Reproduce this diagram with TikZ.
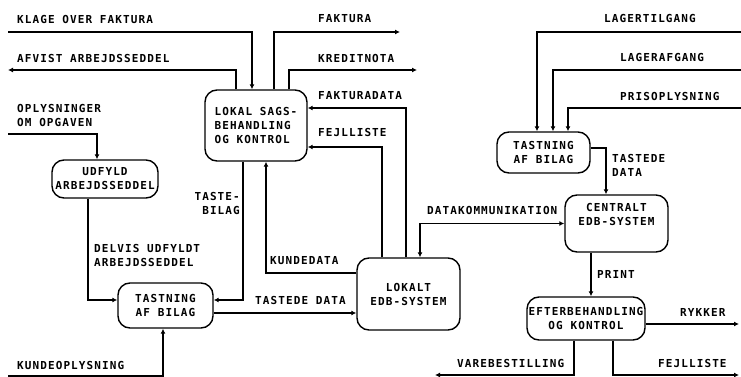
\documentclass[tikz,border=0pt]{standalone}
\usepackage{fontspec}
\usepackage{tikz}
\usetikzlibrary{arrows.meta,positioning}
\newfontfamily\dotfont[LetterSpace=10]{DejaVu Sans Mono}

\begin{document}
\begin{tikzpicture}[
  x=1pt,y=-1pt,
  every node/.style={font=\dotfont\bfseries\fontsize{11}{14}\selectfont},
  proc/.style={draw,line width=1.4pt,rounded corners=12pt,inner sep=1pt,align=center},
  lbl/.style={inner sep=0pt,anchor=west,align=left},
  flow/.style={line width=1.2pt,-{Latex[length=5pt,width=5pt]}},
  both/.style={line width=1.2pt,{Latex[length=5pt,width=5pt]}-{Latex[length=5pt,width=5pt]}}
]
\useasboundingbox (0,0) rectangle (741,377);
% processes
\node[proc,minimum width=102pt,minimum height=71pt,align=left] (lokal) at (256,125.5) {LOKAL SAGS-\\BEHANDLING\\OG KONTROL};
\node[proc,minimum width=106pt,minimum height=38pt] (udfyld) at (105,179) {UDFYLD\\ARBEJDSSEDDEL};
\node[proc,minimum width=95pt,minimum height=45pt] (tastA) at (165.5,305.5) {TASTNING\\AF BILAG};
\node[proc,minimum width=103pt,minimum height=72pt] (edb) at (408.5,294) {LOKALT\\EDB-SYSTEM};
\node[proc,minimum width=93pt,minimum height=41pt] (tastB) at (543.5,152.5) {TASTNING\\AF BILAG};
\node[proc,minimum width=103pt,minimum height=57pt] (central) at (616.5,223.5) {CENTRALT\\EDB-SYSTEM\\[4pt]};
\node[proc,minimum width=118pt,minimum height=43pt] (efter) at (586,318.5) {EFTERBEHANDLING\\OG KONTROL};
% free ends
\coordinate (klage) at (8,32);
\coordinate (afvist) at (8,70);
\coordinate (faktura) at (400,32);
\coordinate (kredit) at (417,70);
\coordinate (lagertil) at (741,32);
\coordinate (lagerafg) at (741,70);
\coordinate (pris) at (741,108);
\coordinate (oplys) at (8,134);
\coordinate (kundeopl) at (8,376);
\coordinate (rykker) at (739,324);
\coordinate (varebest) at (435,375);
\coordinate (fejlud) at (739,375);
% flows
\draw[flow] (klage) -| ([xshift=-4pt]lokal.north);
\draw[flow] ([xshift=-20pt]lokal.north) |- (afvist);
\draw[flow] ([xshift=18pt]lokal.north) |- (faktura);
\draw[flow] ([xshift=33pt]lokal.north) |- (kredit);
\draw[flow] ([xshift=-2.5pt]edb.north) |- ([yshift=17.5pt]lokal.east);
\draw[flow] ([xshift=-26.5pt]edb.north) |- ([yshift=-21.5pt]lokal.east);
\draw[flow] ([xshift=-13pt]lokal.south) |- ([yshift=5.5pt]tastA.east);
\draw[flow] ([yshift=21pt]edb.west) -| ([xshift=10pt]lokal.south);
\draw[both] ([xshift=11.5pt]edb.north) |- (central.west);
\draw[flow] ([yshift=4.5pt]tastB.east) -| ([xshift=-10.5pt]central.north);
\draw[flow] (lagertil) -| ([xshift=-6.5pt]tastB.north);
\draw[flow] (lagerafg) -| ([xshift=9.5pt]tastB.north);
\draw[flow] (pris) -| ([xshift=24.5pt]tastB.north);
\draw[flow] (oplys) -| ([xshift=-8pt]udfyld.north);
\draw[flow] ([xshift=-17pt]udfyld.south) |- ([yshift=5.5pt]tastA.west);
\draw[flow] ([yshift=-7.5pt]tastA.east) -- ([yshift=-7.5pt]tastA.east -| edb.west);
\draw[flow] (kundeopl) -| ([xshift=-2.5pt]tastA.south);
\draw[flow] ([xshift=-25.5pt]central.south) -- ([xshift=5pt]efter.north);
\draw[flow] ([yshift=-5.5pt]efter.east) -- (rykker);
\draw[flow] ([xshift=-12pt]efter.south) |- (varebest);
\draw[flow] ([xshift=27pt]efter.south) |- (fejlud);
% flow labels
\node[lbl] (tklage) at (17,19) {KLAGE OVER FAKTURA};
\node[lbl] (tafvist) at (17,58) {AFVIST ARBEJDSSEDDEL};
\node[lbl] (tfaktura) at (318,19) {FAKTURA};
\node[lbl] (tkredit) at (318,58) {KREDITNOTA};
\node[lbl] (tfakdata) at (318,96) {FAKTURADATA};
\node[lbl] (tfejl) at (318,132) {FEJLLISTE};
\node[lbl] (tlagertil) at (604,18) {LAGERTILGANG};
\node[lbl] (tlagerafg) at (620,57) {LAGERAFGANG};
\node[lbl] (tpris) at (620,96) {PRISOPLYSNING};
\node[lbl] (toplys) at (17,115) {OPLYSNINGER\\OM OPGAVEN};
\node[lbl,anchor=east,align=right] (ttaste) at (240,203) {TASTE-\\BILAG};
\node[lbl] (tdelvis) at (94,255) {DELVIS UDFYLDT\\ARBEJDSSEDDEL};
\node[lbl] (tkunde) at (270,261) {KUNDEDATA};
\node[lbl] (tdatakom) at (427,210) {DATAKOMMUNIKATION};
\node[lbl] (ttastB) at (612,165) {TASTEDE\\DATA};
\node[lbl] (ttastA) at (255,300) {TASTEDE DATA};
\node[lbl] (tkundeopl) at (17,365) {KUNDEOPLYSNING};
\node[lbl] (tprint) at (597,274) {PRINT};
\node[lbl] (trykker) at (680,312) {RYKKER};
\node[lbl] (tvare) at (457,363) {VAREBESTILLING};
\node[lbl] (tfejlud) at (658,363) {FEJLLISTE};
\end{tikzpicture}
\end{document}
